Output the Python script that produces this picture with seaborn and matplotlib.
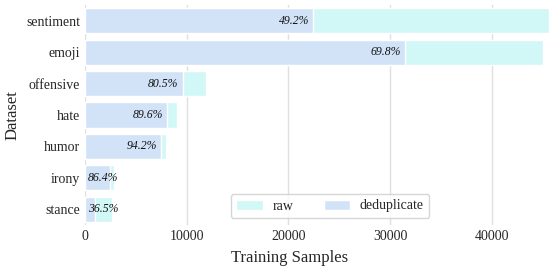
import numpy as np
import pandas as pd
import matplotlib.pyplot as plt
import seaborn as sns

datasets = ["sentiment", "emoji", "offensive", "hate", "humor", "irony", "stance"]
raw = [45615, 45000, 11916, 9000, 7950, 2862, 2620]
dedup_pct = [49.2, 69.8, 80.5, 89.6, 94.2, 86.4, 36.5]
dedup = [22443, 31410, 9592, 8064, 7489, 2473, 956]

df = pd.DataFrame({"Dataset": datasets, "raw": raw, "deduplicate": dedup, "pct": dedup_pct})

sns.set_style("whitegrid")
plt.rcParams["font.family"] = ["Liberation Serif", "DejaVu Serif"]

fig, ax = plt.subplots(figsize=(5.5, 2.69), dpi=100)
fig.subplots_adjust(left=85/550, right=549/550, top=1-5/269, bottom=1-225/269)

raw_color = "#D1F7F7"
dedup_color = "#D2E3F8"
sns.barplot(data=df, x="raw", y="Dataset", color=raw_color, edgecolor="white",
            linewidth=1, label="raw", ax=ax, orient="h", saturation=1)
sns.barplot(data=df, x="deduplicate", y="Dataset", color=dedup_color, edgecolor="white",
            linewidth=1, label="deduplicate", ax=ax, orient="h", saturation=1)

for i, (d, p) in enumerate(zip(dedup, dedup_pct)):
    if d > 5000:
        ax.text(d - 400, i, f"{p}%", ha="right", va="center", fontsize=8.5, style="italic", color="#111111")
    else:
        ax.text(300, i, f"{p}%", ha="left", va="center", fontsize=8.5, style="italic", color="#111111")

ax.set_xlim(0, max(raw))
ax.set_xticks([0, 10000, 20000, 30000, 40000])
ax.grid(axis="y", visible=False)
ax.grid(axis="x", color="#e0e0e0", linewidth=1)
sns.despine(left=True, bottom=True)
ax.tick_params(axis="both", labelsize=10, length=0)
ax.set_xlabel("Training Samples", fontsize=12)
ax.set_ylabel("Dataset", fontsize=12)
ax.xaxis.set_label_coords(0.44, -0.115)
ax.legend(loc="lower center", bbox_to_anchor=(0.528, 0.0), ncol=2, fontsize=10,
          frameon=True, handlelength=1.9, columnspacing=2.2, handletextpad=0.7)

fig.savefig("out.png", dpi=100)
